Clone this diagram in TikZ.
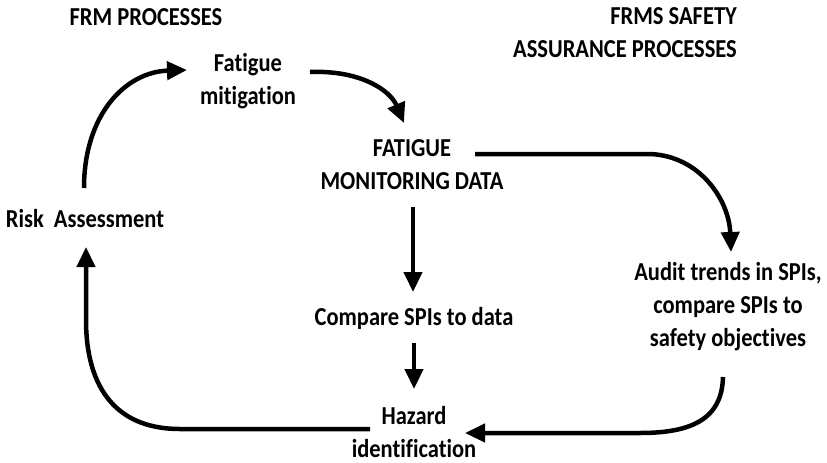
\documentclass[tikz,border=0pt]{standalone}
\usepackage{graphicx}
\usepackage{fontspec}
\setmainfont{Carlito}[RawFeature={-liga;-clig}]
\usetikzlibrary{arrows.meta}
\newcommand\vs[1]{\scalebox{1}[1.15]{#1}}
\begin{document}
\begin{tikzpicture}[x=1pt,y=-1pt,
  lbl/.style={font=\bfseries\fontsize{22.5}{33}\selectfont,align=center,inner sep=0pt},
  conn/.style={line width=4.5pt,-{Triangle[width=18pt,length=20pt]}}]
\useasboundingbox (0,0) rectangle (827,463);
\node[lbl] (frm) at (146,17) {\vs{FRM PROCESSES}};
\node[lbl,align=right,anchor=east] (frms) at (737,33) {\vs{FRMS SAFETY}\\\vs{ASSURANCE PROCESSES}};
\node[lbl] (fm) at (248,81) {\vs{Fatigue}\\\vs{mitigation}};
\node[lbl] (fmd) at (412,165) {\vs{FATIGUE}\\\vs{MONITORING DATA}};
\node[lbl] (ra) at (85,219) {\vs{Risk\ \ Assessment}};
\node[lbl] (cmp) at (414,318) {\vs{Compare SPIs to data}};
\node[lbl] (haz) at (414,432) {\vs{Hazard}\\\vs{identification}};
\node[lbl] (aud) at (728,307) {\vs{Audit trends in SPIs,}\\\vs{compare SPIs to}\\\vs{safety objectives}};
% connector endpoints
\coordinate (raT) at (84,188);
\coordinate (fmL) at (187,70);
\coordinate (fmR) at (310,72);
\coordinate (fmdT) at (404,123);
\coordinate (fmdR) at (475,154);
\coordinate (audT) at (731,252);
\coordinate (fmdB) at (413,207);
\coordinate (cmpT) at (413,292);
\coordinate (cmpB) at (414,343);
\coordinate (hazT) at (414,389);
\coordinate (audB) at (723,377);
\coordinate (hazR) at (465,433);
\coordinate (hazL) at (370,429);
\coordinate (raB) at (86,247);
\draw[conn] (raT) .. controls (84,115) and (125,72) .. (fmL);
\draw[conn] (fmR) .. controls (360,70) and (390,90) .. (fmdT);
\draw[conn] (fmdR) -- (650,154) .. controls (700,156) and (729,200) .. (audT);
\draw[conn] (fmdB) -- (cmpT);
\draw[conn] (cmpB) -- (hazT);
\draw[conn] (audB) .. controls (722,420) and (690,433) .. (640,433) -- (hazR);
\draw[conn] (hazL) -- (180,429) .. controls (110,429) and (86,380) .. (86,320) -- (raB);
\end{tikzpicture}
\end{document}
